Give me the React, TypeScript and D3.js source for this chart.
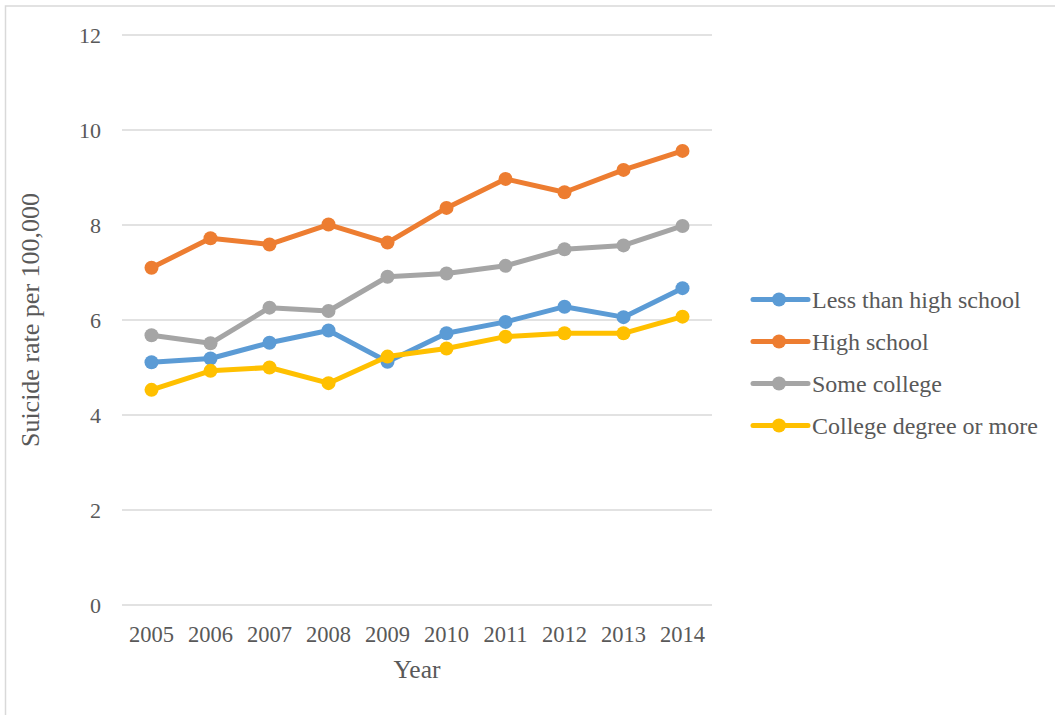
import React from "react";
import * as d3 from "d3";

const years = ["2005", "2006", "2007", "2008", "2009", "2010", "2011", "2012", "2013", "2014"];
const lessThanHighSchool = [5.11, 5.19, 5.52, 5.78, 5.12, 5.72, 5.96, 6.28, 6.06, 6.67];
const highSchool = [7.1, 7.72, 7.59, 8.01, 7.63, 8.36, 8.97, 8.69, 9.16, 9.56];
const someCollege = [5.68, 5.51, 6.26, 6.19, 6.91, 6.98, 7.14, 7.49, 7.57, 7.98];
const collegeDegree = [4.53, 4.93, 5.0, 4.67, 5.23, 5.4, 5.65, 5.72, 5.72, 6.07];
const yTicks = [0, 2, 4, 6, 8, 10, 12];

const seriesNames = ["Less than high school", "High school", "Some college", "College degree or more"];
const seriesColors = ["#5B9BD5", "#ED7D31", "#A5A5A5", "#FFC000"];
const seriesValues = [lessThanHighSchool, highSchool, someCollege, collegeDegree];

const W = 1055;
const H = 715;
const plot = { left: 122, right: 712, top: 35, bottom: 605 };
const FONT = "'Liberation Serif', 'Times New Roman', serif";
const TEXT = "#595959";

export default function App() {
  const x = d3.scaleBand<string>().domain(years).range([plot.left, plot.right]);
  const xc = (yr: string) => (x(yr) ?? 0) + x.bandwidth() / 2;
  const y = d3.scaleLinear().domain([0, 12]).range([plot.bottom, plot.top]);
  const line = d3
    .line<number>()
    .x((_, i) => xc(years[i]))
    .y((v) => y(v));

  const legendY = d3.scalePoint<string>().domain(seriesNames).range([299.5, 425.5]);

  return (
    <svg
      width={W}
      height={H}
      style={{ position: "absolute", left: 0, top: 0, background: "#fff" }}
      fontFamily={FONT}
    >
      <rect x={5.5} y={6} width={W + 10} height={H + 10} fill="#fff" stroke="#D9D9D9" strokeWidth={1.5} />

      {yTicks.map((t) => (
        <g key={t}>
          <line x1={plot.left} x2={plot.right} y1={y(t)} y2={y(t)} stroke="#D9D9D9" strokeWidth={1.5} />
          <text x={101} y={y(t)} dy="0.35em" textAnchor="end" fontSize={22} fill={TEXT}>
            {t}
          </text>
        </g>
      ))}

      {years.map((yr) => (
        <text key={yr} x={xc(yr)} y={642} textAnchor="middle" fontSize={22.5} fill={TEXT}>
          {yr}
        </text>
      ))}

      <text x={417} y={678} textAnchor="middle" fontSize={25.5} fill={TEXT}>
        Year
      </text>
      <text
        transform={`translate(39, ${(plot.top + plot.bottom) / 2}) rotate(-90)`}
        textAnchor="middle"
        fontSize={26}
        fill={TEXT}
      >
        Suicide rate per 100,000
      </text>

      {seriesValues.map((vals, s) => (
        <g key={seriesNames[s]}>
          <path
            d={line(vals) ?? ""}
            fill="none"
            stroke={seriesColors[s]}
            strokeWidth={5}
            strokeLinejoin="round"
            strokeLinecap="round"
          />
          {vals.map((v, i) => (
            <circle key={i} cx={xc(years[i])} cy={y(v)} r={7} fill={seriesColors[s]} />
          ))}
        </g>
      ))}

      {seriesNames.map((name, s) => {
        const ly = legendY(name) ?? 0;
        return (
          <g key={name}>
            <line x1={753} x2={808} y1={ly} y2={ly} stroke={seriesColors[s]} strokeWidth={5} strokeLinecap="round" />
            <circle cx={779} cy={ly} r={7} fill={seriesColors[s]} />
            <text x={812} y={ly} dy="0.35em" fontSize={24} fill={TEXT}>
              {name}
            </text>
          </g>
        );
      })}
    </svg>
  );
}
